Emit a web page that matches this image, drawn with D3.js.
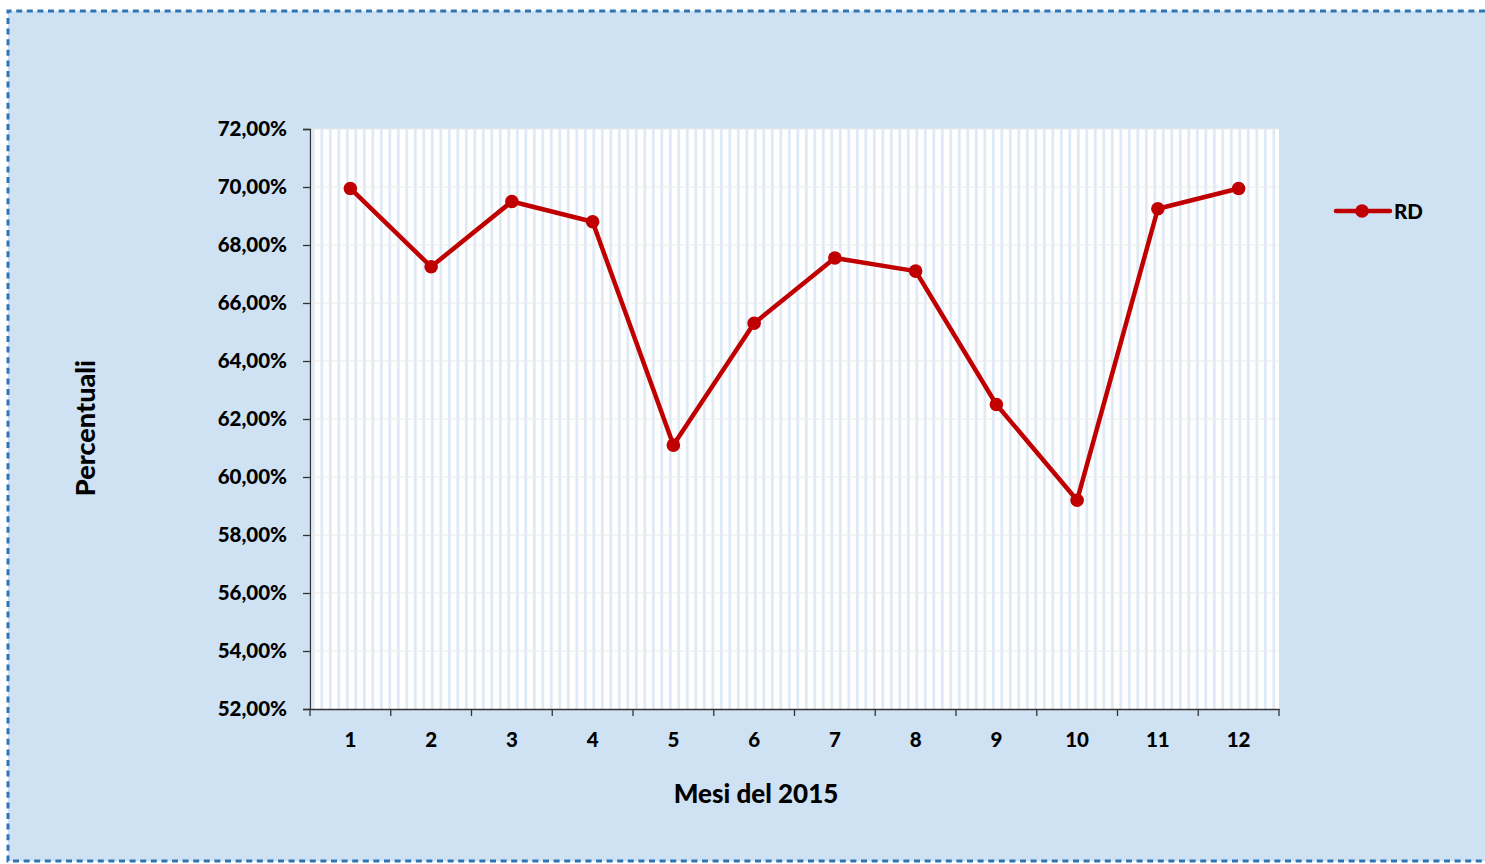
<!DOCTYPE html>
<html><head><meta charset="utf-8">
<script src="https://cdn.jsdelivr.net/npm/d3@7"></script>
<style>
html,body{margin:0;padding:0;background:#fff;}
svg{display:block;}
text{font-family:Lato,"Open Sans",sans-serif;font-weight:900;fill:#000;}
</style></head>
<body>
<svg id="c" width="1485" height="864"></svg>
<script>
const months = ["1","2","3","4","5","6","7","8","9","10","11","12"];
const rdValues = [69.95, 67.25, 69.5, 68.8, 61.1, 65.3, 67.55, 67.1, 62.5, 59.2, 69.25, 69.95];
const yTicks = [52,54,56,58,60,62,64,66,68,70,72];
const seriesName = "RD";
const xTitle = "Mesi del 2015";
const yTitle = "Percentuali";

const svg = d3.select("#c");
const W = 1485, H = 864;
const plot = {x0:310, x1:1279, y0:129, y1:709};

svg.append("rect").attr("x",8).attr("y",11).attr("width",W-8).attr("height",H-11-3).attr("fill","#cfe2f3");
const bp = d3.path();
bp.moveTo(W,11); bp.lineTo(8,11); bp.lineTo(8,861); bp.lineTo(W,861);
svg.append("path").attr("d",bp.toString()).attr("fill","none")
  .attr("stroke","#2e75b6").attr("stroke-width",3).attr("stroke-dasharray","6,4.6");

const defs = svg.append("defs");
const pat = defs.append("pattern").attr("id","stripes").attr("patternUnits","userSpaceOnUse")
  .attr("x",plot.x0).attr("y",0).attr("width",8.5).attr("height",10);
pat.append("rect").attr("width",8.5).attr("height",10).attr("fill","#ffffff");
pat.append("rect").attr("x",2).attr("width",2.6).attr("height",10).attr("fill","#dde9f5");

const x = d3.scaleBand().domain(months).range([plot.x0,plot.x1]).padding(0);
const y = d3.scaleLinear().domain([52,72]).range([plot.y1,plot.y0]);

svg.append("rect").attr("x",plot.x0).attr("y",plot.y0).attr("width",plot.x1-plot.x0).attr("height",plot.y1-plot.y0)
  .attr("fill","url(#stripes)");

svg.append("g").selectAll("line").data(yTicks.slice(1)).join("line")
  .attr("x1",plot.x0).attr("x2",plot.x1).attr("y1",d=>y(d)).attr("y2",d=>y(d))
  .attr("stroke","#ebebeb").attr("stroke-width",1.2);

const yAxis = d3.axisLeft(y).tickValues(yTicks).tickSize(7).tickPadding(16)
  .tickFormat(d=>d3.format(".2f")(d).replace(".",",")+"%");
const gy = svg.append("g").attr("transform",`translate(${plot.x0},0)`).call(yAxis);
gy.select(".domain").attr("stroke","#333").attr("stroke-width",1.3);
gy.selectAll(".tick line").attr("stroke","#333").attr("stroke-width",1.3);
gy.selectAll("text").style("font-size","20.5px").attr("fill","#000");

const xAxis = d3.axisBottom(x).tickSize(0).tickPadding(23);
const gx = svg.append("g").attr("transform",`translate(0,${plot.y1})`).call(xAxis);
gx.select(".domain").attr("stroke","#333").attr("stroke-width",1.3);
gx.selectAll("text").style("font-size","20.5px").attr("fill","#000");
const bounds = months.map(m=>x(m)).concat([x(months[months.length-1])+x.bandwidth()]);
gx.append("g").selectAll("line").data(bounds).join("line")
  .attr("x1",d=>d).attr("x2",d=>d).attr("y1",0).attr("y2",7)
  .attr("stroke","#333").attr("stroke-width",1.3);

svg.append("text").attr("x",756).attr("y",803).attr("text-anchor","middle")
  .style("font-size","26px").text(xTitle);
svg.append("text").attr("transform",`translate(95,428) rotate(-90)`).attr("text-anchor","middle")
  .style("font-size","27px").text(yTitle);

const cx = d=>x(d)+x.bandwidth()/2;
const line = d3.line().x((d,i)=>cx(months[i])).y(d=>y(d));
svg.append("path").datum(rdValues).attr("d",line).attr("fill","none")
  .attr("stroke","#c00000").attr("stroke-width",4.5).attr("stroke-linejoin","round");
svg.append("g").selectAll("circle").data(rdValues).join("circle")
  .attr("cx",(d,i)=>cx(months[i])).attr("cy",d=>y(d)).attr("r",6.8).attr("fill","#c00000");

const lg = svg.append("g");
lg.append("line").attr("x1",1336).attr("x2",1390).attr("y1",211).attr("y2",211)
  .attr("stroke","#c00000").attr("stroke-width",4.5).attr("stroke-linecap","round");
lg.append("circle").attr("cx",1362).attr("cy",211).attr("r",6.8).attr("fill","#c00000");
lg.append("text").attr("x",1394).attr("y",218.5).style("font-size","20.5px").text(seriesName);
</script>
</body></html>
